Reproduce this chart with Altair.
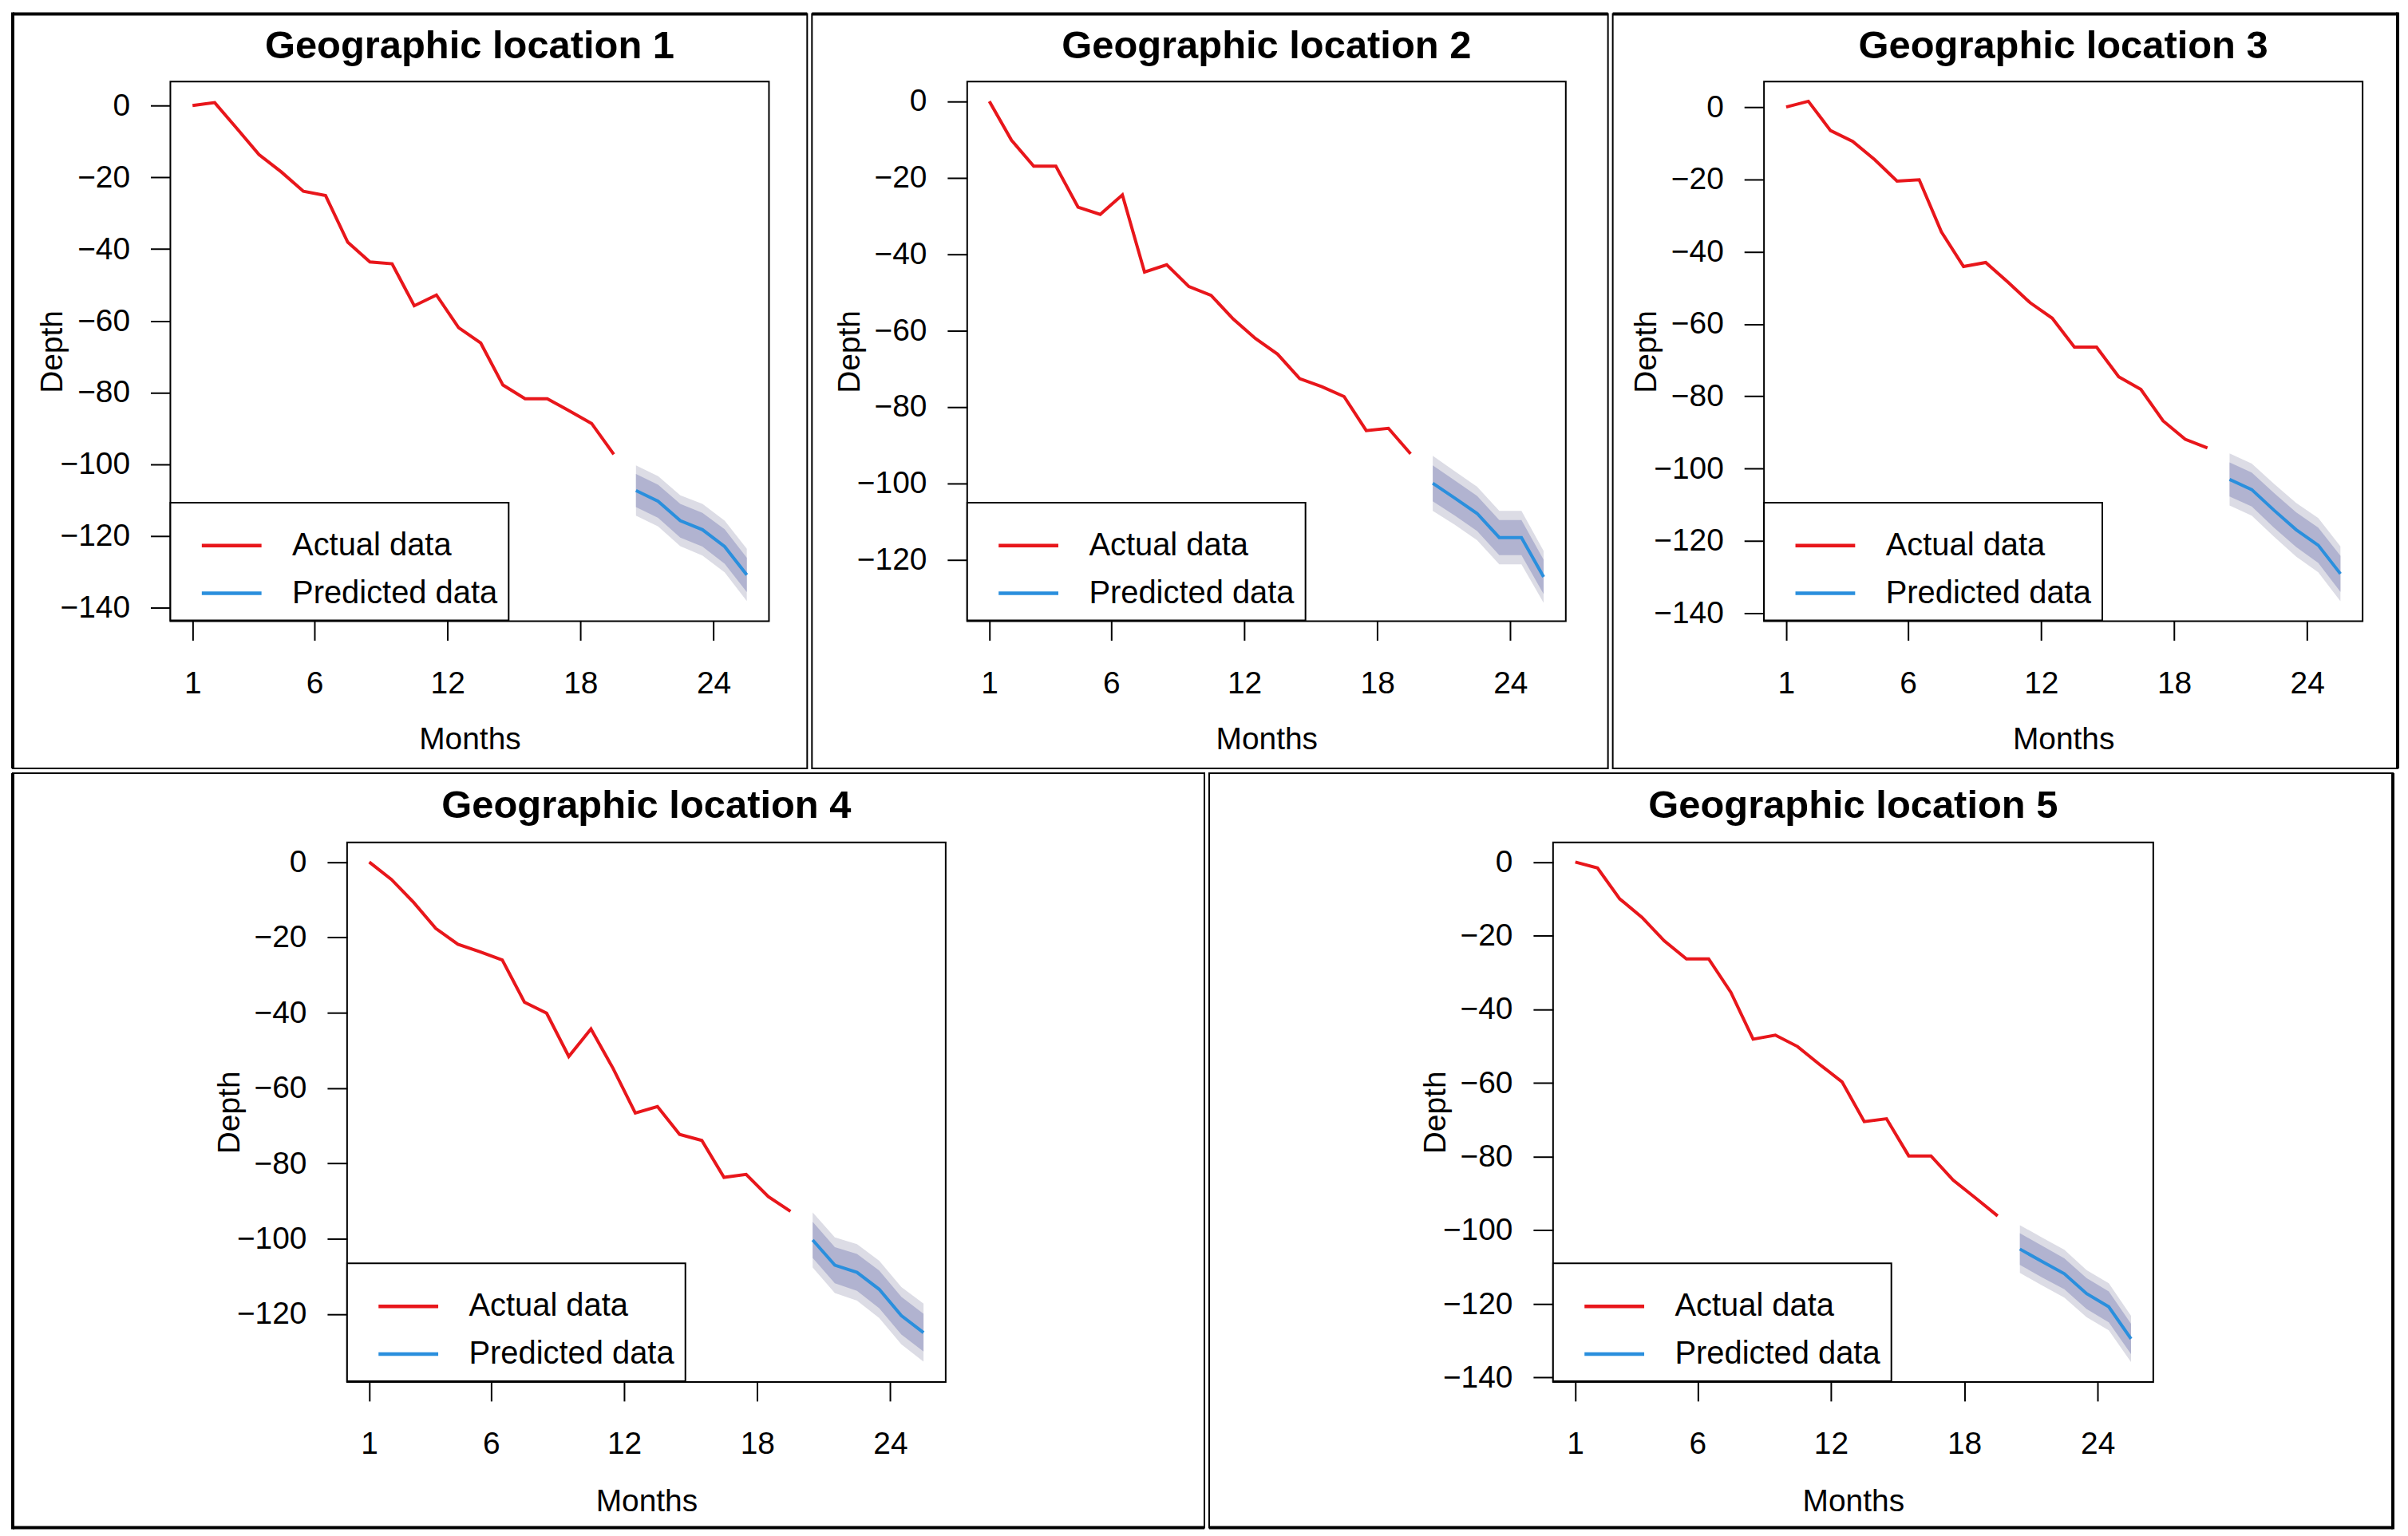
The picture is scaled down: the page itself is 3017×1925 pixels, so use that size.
import altair as alt
import pandas as pd

# ---------------- data ----------------
titles = ["Geographic location 1", "Geographic location 2", "Geographic location 3",
          "Geographic location 4", "Geographic location 5"]
series_names = ["Actual data", "Predicted data"]

months_actual = list(range(1, 21))
months_pred = list(range(21, 27))

actual_1 = [0.0, 0.8, -6.4, -13.7, -18.5, -23.9, -25.1, -38.1, -43.6, -44.1,
            -55.8, -52.8, -61.9, -66.2, -77.9, -81.7, -81.7, -85.1, -88.6, -97.2]
actual_2 = [0.0, -10.2, -17.0, -17.0, -27.7, -29.6, -24.5, -44.7, -42.8, -48.5,
            -50.8, -57.0, -62.1, -66.2, -72.6, -74.7, -77.3, -86.2, -85.6, -92.3]
actual_3 = [0.0, 1.6, -6.5, -9.5, -14.6, -20.5, -20.1, -34.5, -44.1, -43.0,
            -48.4, -54.1, -58.4, -66.4, -66.4, -74.6, -78.1, -86.8, -91.9, -94.3]
actual_4 = [0.0, -4.6, -10.7, -17.6, -21.8, -23.8, -26.0, -37.2, -40.1, -51.6,
            -44.3, -54.8, -66.6, -64.9, -72.3, -73.9, -83.7, -82.9, -88.8, -92.7]
actual_5 = [0.0, -1.6, -10.0, -15.0, -21.4, -26.3, -26.3, -35.4, -48.1, -47.0,
            -50.1, -55.0, -59.7, -70.5, -69.7, -79.8, -79.8, -86.4, -91.2, -96.1]

pred_1 = [-107.3, -110.3, -115.7, -118.2, -122.9, -130.8]
pred_2 = [-100.0, -103.9, -107.9, -114.2, -114.2, -124.5]
pred_3 = [-103.0, -105.8, -111.5, -116.9, -121.2, -129.1]
pred_4 = [-100.3, -107.0, -108.9, -113.4, -120.4, -124.9]
pred_5 = [-105.1, -108.5, -111.8, -117.2, -120.8, -129.5]

hi95_1 = [-100.3, -103.3, -108.6, -111.0, -115.7, -123.5]
lo95_1 = [-114.3, -117.3, -122.8, -125.4, -130.1, -138.1]
hi80_1 = [-102.7, -105.7, -111.0, -113.5, -118.1, -126.0]
lo80_1 = [-111.9, -114.9, -120.4, -122.9, -127.7, -135.6]

hi95_2 = [-92.8, -96.9, -100.9, -107.2, -107.2, -117.7]
lo95_2 = [-107.2, -110.9, -114.9, -121.2, -121.2, -131.3]
hi80_2 = [-95.3, -99.3, -103.3, -109.6, -109.6, -120.0]
lo80_2 = [-104.7, -108.5, -112.5, -118.8, -118.8, -129.0]

hi95_3 = [-95.8, -98.6, -104.2, -109.5, -113.7, -121.5]
lo95_3 = [-110.2, -113.0, -118.8, -124.3, -128.7, -136.7]
hi80_3 = [-98.3, -101.1, -106.7, -112.1, -116.3, -124.1]
lo80_3 = [-107.7, -110.5, -116.3, -121.7, -126.1, -134.1]

hi95_4 = [-93.0, -99.6, -101.4, -105.8, -112.8, -117.2]
lo95_4 = [-107.6, -114.4, -116.4, -121.0, -128.0, -132.6]
hi80_4 = [-95.5, -102.2, -104.0, -108.4, -115.4, -119.9]
lo80_4 = [-105.1, -111.8, -113.8, -118.4, -125.4, -129.9]

hi95_5 = [-98.6, -102.0, -105.3, -110.8, -114.4, -123.2]
lo95_5 = [-111.6, -115.0, -118.3, -123.6, -127.2, -135.8]
hi80_5 = [-100.8, -104.2, -107.6, -113.0, -116.6, -125.4]
lo80_5 = [-109.4, -112.8, -116.0, -121.4, -125.0, -133.6]

y_domains = [[-143.7, 6.65], [-136.1, 5.15], [-142.2, 7.03], [-138.0, 5.22], [-141.2, 5.34]]
y_ticks = [[0, -20, -40, -60, -80, -100, -120, -140],
           [0, -20, -40, -60, -80, -100, -120],
           [0, -20, -40, -60, -80, -100, -120, -140],
           [0, -20, -40, -60, -80, -100, -120],
           [0, -20, -40, -60, -80, -100, -120, -140]]
x_tick_values = [1, 6.5, 12.5, 18.5, 24.5]
x_domain = [0, 27]

actual = [actual_1, actual_2, actual_3, actual_4, actual_5]
pred = [pred_1, pred_2, pred_3, pred_4, pred_5]
hi95 = [hi95_1, hi95_2, hi95_3, hi95_4, hi95_5]
lo95 = [lo95_1, lo95_2, lo95_3, lo95_4, lo95_5]
hi80 = [hi80_1, hi80_2, hi80_3, hi80_4, hi80_5]
lo80 = [lo80_1, lo80_2, lo80_3, lo80_4, lo80_5]

# ---------------- styling ----------------
RED = "#E8161B"
BLUE = "#2A8FDD"
OUTER = "#DCDCE5"
INNER = "#B1B3D0"
FONT = "Liberation Sans"
FS = 39
LEG_FS = 40

# layout per panel: (width, height, frame x0, x1, y0, y1, title baseline, x-title baseline)
layout = [
    (752, 678, -198, 800, -85, 863, -29.5, 160),
    (752, 678, -195, 805, -85, 863, -29.5, 160),
    (752, 678, -190, 796, -85, 863, -29.5, 160),
    (752, 678, -420, 1077, -87, 861, -31, 162),
    (754, 678, -432, 1055, -87, 861, -31, 162),
]
# which sides of each panel's frame form the figure's outer border
outer_sides = [["left", "top"], ["top"], ["top", "right"], ["left", "bottom"], ["right", "bottom"]]


def border_rules(i):
    W, H, fx0, fx1, fy0, fy1, _, _ = layout[i]
    sides = outer_sides[i]
    rules = []
    one = pd.DataFrame({"k": [0]})
    for s in sides:
        if s in ("left", "right"):
            x = fx0 if s == "left" else fx1
            ya = fy0 - 2 if "top" in sides else fy0
            yb = fy1 + 2 if "bottom" in sides else fy1
            enc = dict(x=alt.value(x), x2=alt.value(x), y=alt.value(ya), y2=alt.value(yb))
        else:
            y = fy0 if s == "top" else fy1
            enc = dict(x=alt.value(fx0), x2=alt.value(fx1), y=alt.value(y), y2=alt.value(y))
        rules.append(alt.Chart(one).mark_rule(color="black", strokeWidth=4).encode(**enc))
    return rules


def panel(i):
    W, H, fx0, fx1, fy0, fy1, tdy, mty = layout[i]
    lines_df = pd.DataFrame({
        "month": months_actual + months_pred,
        "depth": actual[i] + pred[i],
        "series": [series_names[0]] * len(months_actual) + [series_names[1]] * len(months_pred),
    })
    band_df = pd.DataFrame({
        "month": months_pred,
        "lo95": lo95[i], "hi95": hi95[i],
        "lo80": lo80[i], "hi80": hi80[i],
    })

    xaxis = alt.Axis(values=x_tick_values, labelExpr="'' + floor(datum.value)",
                     tickSize=24, tickWidth=2, labelPadding=35, domain=False, grid=False,
                     labelFlush=False, labelOverlap=False, labelFontSize=FS,
                     title="Months", titleFontSize=FS, titleFontWeight="normal",
                     titleX=W / 2, titleY=mty, titleBaseline="alphabetic", titleAlign="center")
    yaxis = alt.Axis(values=y_ticks[i], tickSize=25, tickWidth=2, labelPadding=26,
                     domain=False, grid=False, labelFontSize=FS, labelOverlap=False,
                     title="Depth", titleFontSize=FS, titleFontWeight="normal",
                     titleX=-136, titleY=H / 2, titleAngle=270,
                     titleBaseline="alphabetic", titleAlign="center")
    xs = alt.Scale(domain=x_domain, nice=False, zero=False)
    ys = alt.Scale(domain=y_domains[i], nice=False, zero=False)

    frame = alt.Chart(pd.DataFrame({"k": [0]})).mark_rect(
        fillOpacity=0, stroke="black", strokeWidth=2
    ).encode(x=alt.value(fx0), x2=alt.value(fx1), y=alt.value(fy0), y2=alt.value(fy1))

    outer = alt.Chart(band_df).mark_area(color=OUTER, opacity=1).encode(
        x=alt.X("month:Q", scale=xs, axis=xaxis),
        y=alt.Y("lo95:Q", scale=ys, axis=yaxis),
        y2="hi95:Q",
    )
    inner = alt.Chart(band_df).mark_area(color=INNER, opacity=1).encode(
        x=alt.X("month:Q", scale=xs, axis=xaxis),
        y=alt.Y("lo80:Q", scale=ys, axis=yaxis),
        y2="hi80:Q",
    )
    lines = alt.Chart(lines_df).mark_line(strokeWidth=4).encode(
        x=alt.X("month:Q", scale=xs, axis=xaxis),
        y=alt.Y("depth:Q", scale=ys, axis=yaxis),
        color=alt.Color("series:N",
                        scale=alt.Scale(domain=series_names, range=[RED, BLUE]),
                        legend=alt.Legend(orient="none", legendX=0, legendY=H - 149,
                                          title=None, padding=14, strokeColor="black",
                                          fillColor="white", symbolType="stroke",
                                          symbolSize=5625, symbolStrokeWidth=4.5,
                                          symbolOffset=23, labelOffset=36, labelLimit=0,
                                          labelFontSize=LEG_FS, labelFont=FONT,
                                          labelColor="black", rowPadding=0)),
    )
    title = alt.Chart(pd.DataFrame({"t": [titles[i]]})).mark_text(
        fontSize=49, fontWeight="bold", align="center", baseline="alphabetic",
        font=FONT, color="black"
    ).encode(text="t:N", x=alt.value(W / 2), y=alt.value(tdy))

    return alt.layer(frame, *border_rules(i), outer, inner, lines, title).properties(
        width=W, height=H)


def spacer():
    # zero-size first cell so that every row starts at its frame's left edge
    return alt.Chart(pd.DataFrame({"k": [0]})).mark_point(size=0, opacity=0).encode(
        x=alt.value(0), y=alt.value(0)
    ).properties(width=1, height=1, view=alt.ViewBackground(stroke="transparent"))


top = alt.hconcat(spacer(), panel(0), panel(1), panel(2), spacing=0).resolve_scale(
    color="independent").resolve_legend(color="independent")
bottom = alt.hconcat(spacer(), panel(3), panel(4), spacing=0).resolve_scale(
    color="independent").resolve_legend(color="independent")

chart = alt.vconcat(top, bottom, spacing=0).resolve_scale(
    color="independent").resolve_legend(color="independent").properties(
    padding=2
).configure(
    font=FONT, background="white"
).configure_view(stroke="black", strokeWidth=2).configure_axis(
    tickColor="black", labelColor="black", titleColor="black", labelFont=FONT, titleFont=FONT
).configure_legend(strokeWidth=2)

chart.save("out.html", embed_options={"renderer": "svg", "actions": False})
